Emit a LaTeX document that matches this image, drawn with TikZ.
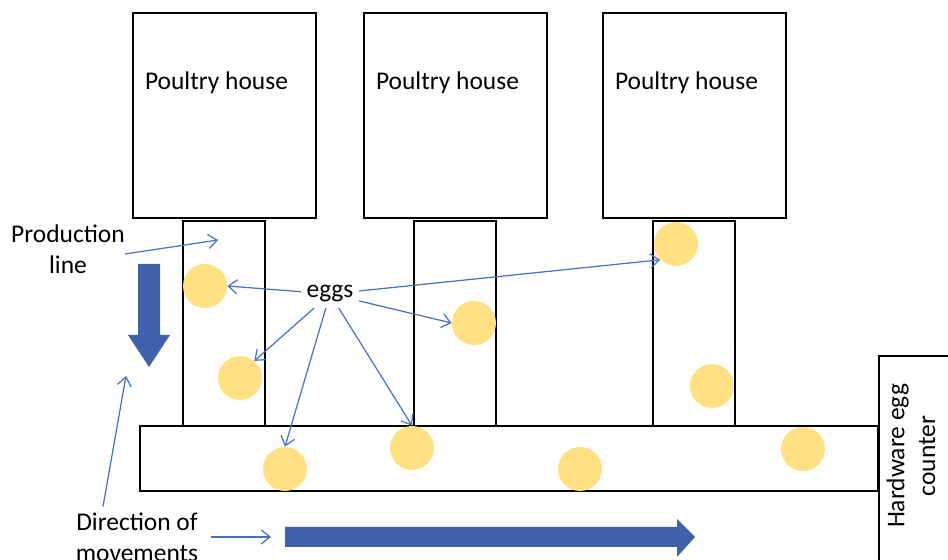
\documentclass[tikz,border=0pt]{standalone}
\usepackage{fontspec}
\setmainfont{Carlito}
\usetikzlibrary{positioning}
\usetikzlibrary{arrows.meta}
\definecolor{eggc}{RGB}{255,224,130}
\definecolor{thinarrowc}{RGB}{68,114,196}
\definecolor{bigarrowc}{RGB}{63,98,170}

\tikzset{
  housebox/.style={draw, line width=0.9pt, shape=rectangle, minimum width=3.66cm, minimum height=4.1cm},
  lanebox/.style={draw, line width=0.9pt, shape=rectangle, minimum width=1.64cm, minimum height=4.1cm},
  egg/.style={fill=eggc, draw=none, shape=circle, minimum size=0.88cm, inner sep=0pt},
  thinarrow/.style={draw=thinarrowc, line width=0.7pt, -{Straight Barb[length=5pt,width=8pt]}},
  lbl/.style={font=\fontsize{14.5}{17.6}\selectfont, align=center}
}

\begin{document}
\begin{tikzpicture}[x=0.02cm, y=-0.02cm]
        \clip (0,0) rectangle (948,560);

        % houses and lanes
        \node[housebox] (h1) at (224.5,115.5) {};
        \node[housebox] (h2) at (455.5,115.5) {};
        \node[housebox] (h3) at (694.5,115.5) {};
        \node[lbl] (t1) at ([shift={(-8,70)}]h1.north) {Poultry house};
        \node[lbl] (t2) at ([shift={(-8,70)}]h2.north) {Poultry house};
        \node[lbl] (t3) at ([shift={(-8,70)}]h3.north) {Poultry house};

        \node[lanebox] (lane1) at (224,323.5) {};
        \node[lanebox] (lane2) at (455,323.5) {};
        \node[lanebox] (lane3) at (694,323.5) {};

        \node[draw, line width=0.9pt, shape=rectangle, minimum width=14.76cm, minimum height=1.3cm]
        (belt) at (509,458.5) {};
        \node[draw, line width=0.9pt, shape=rectangle, anchor=north west, minimum width=2cm, minimum height=5cm]
        (counter) at (878,355) {};
        \node[lbl, rotate=90] (countertxt) at (911,456) {Hardware egg\\counter};

        % eggs
        \node[egg] (egg1) at (205,286) {};
        \node[egg] (egg2) at (240,378) {};
        \node[egg] (egg3) at (474,323) {};
        \node[egg] (egg4) at (676,244) {};
        \node[egg] (egg5) at (712,386) {};
        \node[egg] (egg6) at (285,469) {};
        \node[egg] (egg7) at (412,448) {};
        \node[egg] (egg8) at (580,469) {};
        \node[egg] (egg9) at (803,449) {};

        \node[lbl, inner sep=3pt] (eggs) at (330,294) {eggs};
        \draw[thinarrow] (eggs) -- (egg1.east);
        \draw[thinarrow] (eggs) -- (egg2.50);
        \draw[thinarrow] (eggs) -- (egg6.north);
        \draw[thinarrow] (eggs) -- (egg7.north);
        \draw[thinarrow] (eggs) -- (egg3.west);
        \draw[thinarrow] (eggs) -- (egg4.225);

        % big arrows
        \fill[bigarrowc] (138,264) -- (160,264) -- (160,335) -- (170,335) -- (149,367)
                -- (128,335) -- (138,335) -- cycle;
        \fill[bigarrowc] (285,527) -- (677,527) -- (677,519) -- (695,537) -- (677,557)
                -- (677,547) -- (285,547) -- cycle;

        % labels
        \node[lbl] (prod) at (68,249) {Production\\line};
        \coordinate (prodend) at (218,240);
        \draw[thinarrow] (prod.east) ++(-6,5) -- (prodend);

        \node[lbl] (dir) at (137,537) {Direction of\\movements};
        \coordinate (dirup) at (126,376);
        \coordinate (dirright) at (271,537);
        \draw[thinarrow] ([xshift=-0.68cm]dir.north) -- (dirup);
        \draw[thinarrow] ([xshift=0.14cm]dir.east) -- (dirright);

        \end{tikzpicture}
\end{document}
